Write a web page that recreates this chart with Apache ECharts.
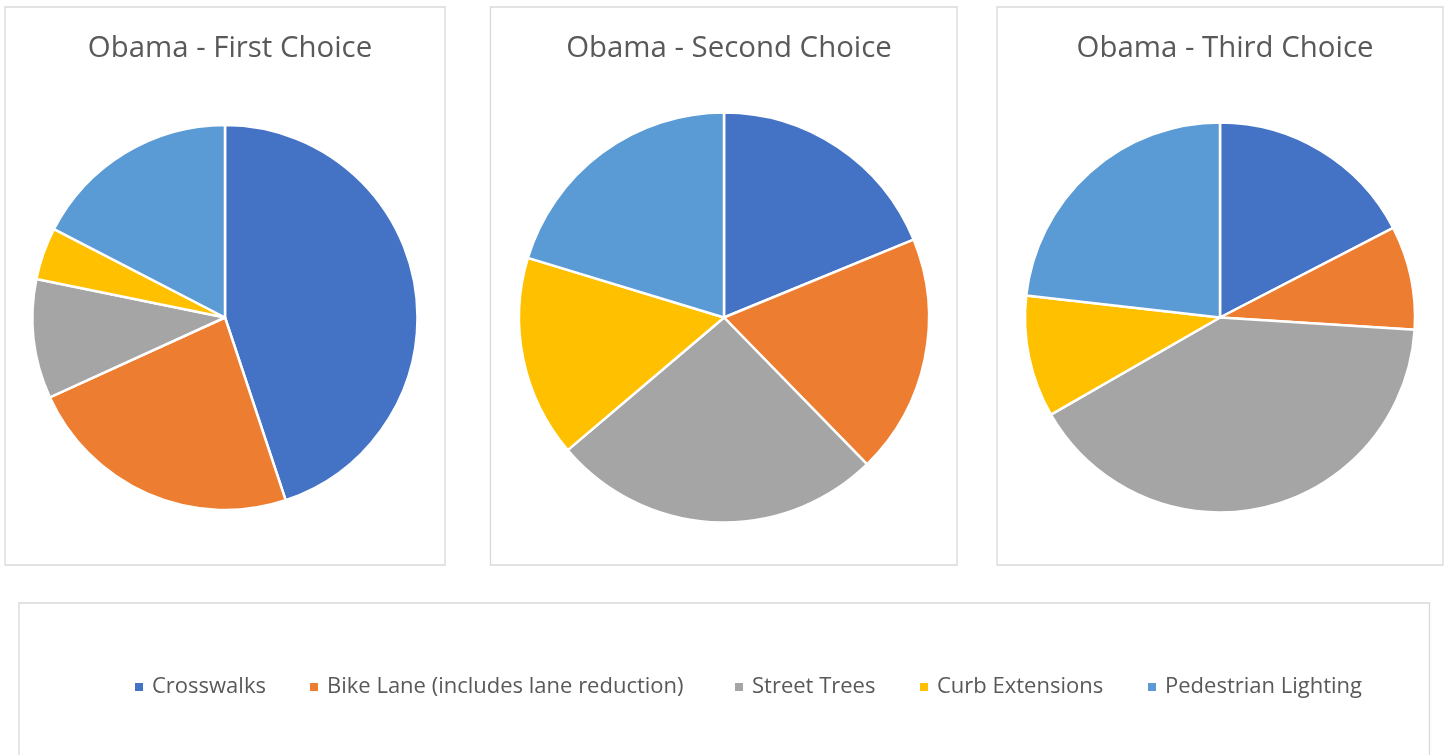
<!DOCTYPE html>
<html>
<head>
<meta charset="utf-8">
<script src="https://cdn.jsdelivr.net/npm/echarts@6/dist/echarts.min.js"></script>
<style>
html,body{margin:0;padding:0;background:#fff;}
#main{width:1447px;height:755px;}
</style>
</head>
<body>
<div id="main"></div>
<script>
const categories = ['Crosswalks', 'Bike Lane (includes lane reduction)', 'Street Trees', 'Curb Extensions', 'Pedestrian Lighting'];
const chartTitles = ['Obama - First Choice', 'Obama - Second Choice', 'Obama - Third Choice'];
const firstChoice = [44.9, 23.3, 10.0, 4.4, 17.4];
const secondChoice = [18.8, 18.9, 26.1, 15.9, 20.3];
const thirdChoice = [17.4, 8.6, 40.7, 10.1, 23.2];
const colors = ['#4472C4', '#ED7D31', '#A5A5A5', '#FFC000', '#5B9BD5'];

const seriesValues = [firstChoice, secondChoice, thirdChoice];
const pieCenters = [[225, 317.5], [724, 317.5], [1220, 317.5]];
const pieRadii = [192.5, 205, 195];
const boxes = [[5, 7, 440, 558], [490.5, 7, 466.5, 558], [997, 7, 446, 558], [19, 603, 1410.5, 170]];
const legendLefts = [133, 308, 733, 918, 1146];
const FONT = '"Open Sans", sans-serif';

const chart = echarts.init(document.getElementById('main'), null, {renderer: 'canvas'});

const option = {
  animation: false,
  color: colors,
  title: chartTitles.map((t, i) => ({
    text: t,
    left: pieCenters[i][0],
    top: 29,
    textAlign: 'center',
    textStyle: {color: '#595959', fontSize: 29.4, fontWeight: 'normal', fontFamily: FONT}
  })),
  legend: categories.map((c, i) => ({
    data: [c],
    left: legendLefts[i],
    top: 676,
    padding: 0,
    icon: 'rect',
    itemWidth: 10,
    itemHeight: 10,
    selectedMode: false,
    textStyle: {color: '#595959', fontSize: 22, fontFamily: FONT, padding: [0, 0, 0, 3]}
  })),
  graphic: boxes.map(b => ({
    type: 'rect',
    shape: {x: b[0], y: b[1], width: b[2], height: b[3]},
    style: {fill: 'none', stroke: '#D9D9D9', lineWidth: 1.3},
    silent: true,
    z: -1
  })),
  series: seriesValues.map((vals, i) => ({
    type: 'pie',
    name: chartTitles[i],
    center: pieCenters[i],
    radius: pieRadii[i],
    startAngle: 90,
    clockwise: true,
    label: {show: false},
    labelLine: {show: false},
    emphasis: {disabled: true},
    itemStyle: {borderColor: '#ffffff', borderWidth: 2.5},
    data: categories.map((c, k) => ({name: c, value: vals[k]}))
  }))
};

chart.setOption(option);
</script>
</body>
</html>
